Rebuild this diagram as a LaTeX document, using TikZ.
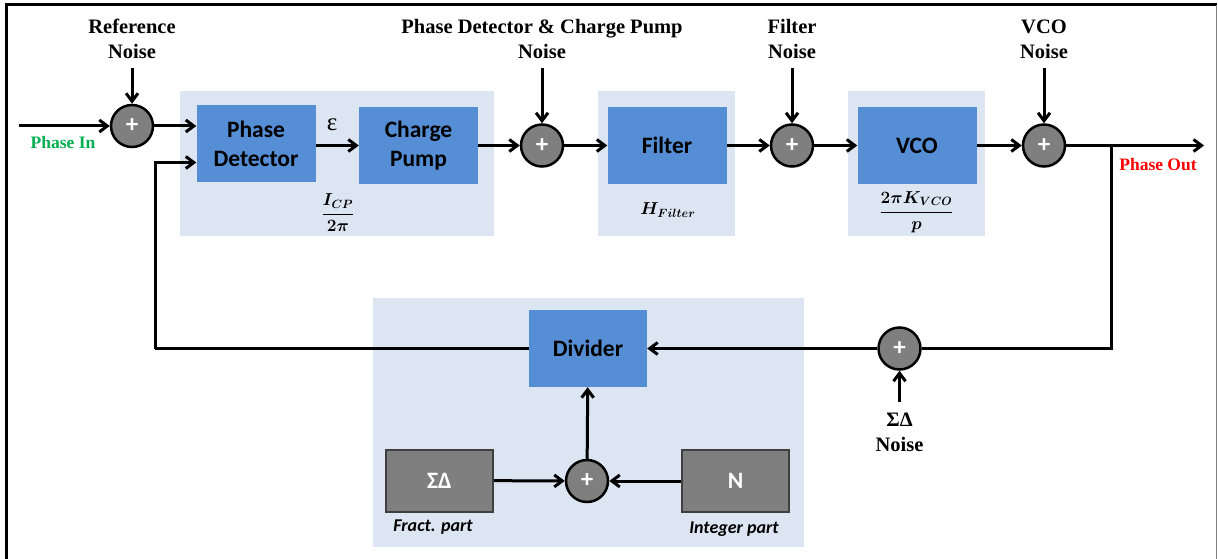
\documentclass[tikz,border=0pt]{standalone}
\usepackage{amsmath}
\usepackage{bm}
\usepackage{fontspec}
\setmainfont{Liberation Serif}
\newfontfamily\carlito{Carlito}
\usetikzlibrary{positioning, arrows.meta, fit, backgrounds}
\definecolor{blockblue}{HTML}{558ED5}
\definecolor{panelblue}{HTML}{DCE6F2}
\definecolor{sumgray}{HTML}{7F7F7F}
\definecolor{edgegray}{HTML}{3F3F3F}
\definecolor{ingreen}{HTML}{00B050}

\begin{document}
\begin{tikzpicture}[
    x=1pt, y=-1pt,
    block/.style={rectangle, fill=blockblue, minimum width=119pt, minimum height=76pt,
                  inner sep=0pt, align=center,
                  font=\carlito\bfseries\fontsize{23.5}{29}\selectfont},
    graybox/.style={block, fill=sumgray, draw=edgegray, line width=2pt, text=white,
                    minimum width=107pt, minimum height=62pt},
    sum/.style={circle, draw=black, line width=2.5pt, fill=sumgray, minimum size=42pt,
                inner sep=0pt, text=white, font=\carlito\bfseries\fontsize{25}{28}\selectfont},
    panel/.style={fill=panelblue, inner sep=0pt},
    noise/.style={font=\bfseries\fontsize{20.5}{25}\selectfont, align=center},
    gain/.style={font=\fontsize{18.5}{22}\selectfont},
    part/.style={font=\carlito\bfseries\itshape\fontsize{18}{22}\selectfont},
    arrow/.style={-{Straight Barb[length=8pt,width=12pt]}, line width=3pt},
    wire/.style={line width=3pt}
]
\useasboundingbox (0,0) rectangle (1218,559);
\draw[line width=3pt] (6.5,559) -- (6.5,5) -- (1217,5);
\draw[gray, line width=1.5pt] (1216.5,5) -- (1216.5,559);

% forward path
\node[sum] (sref) at (132,126) {+};
\node[block] (pd) at (256,143.5) {Phase\\Detector};
\node[block] (cp) at (418.5,145.5) {Charge\\Pump};
\node[sum] (spd) at (542,145.5) {+};
\node[block] (filt) at (667,145.5) {Filter};
\node[sum] (sfilt) at (792,145.5) {+};
\node[block] (vco) at (917,145.5) {VCO};
\node[sum] (svco) at (1044,145.5) {+};

\node[font=\fontsize{25}{28}\selectfont] (eps) at (332,125) {ε};
\node[gain] (cpgain) at (338,213) {$\bm{\dfrac{I_{CP}}{2\pi}}$};
\node[gain] (hfilt) at (668,210) {$\bm{H_{Filter}}$};
\node[gain] (vcogain) at (916.5,212) {$\bm{\dfrac{2\pi K_{VCO}}{p}}$};

% noise sources
\node[noise] (refnoise) at (132,39) {Reference\\Noise};
\node[noise] (pdnoise) at (542,39) {Phase Detector \& Charge Pump\\Noise};
\node[noise] (filtnoise) at (792,39) {Filter\\Noise};
\node[noise] (vconoise) at (1044,39) {VCO\\Noise};
\coordinate (refsrc) at (132,68);
\coordinate (pdsrc) at (542,68);
\coordinate (filtsrc) at (792,68);
\coordinate (vcosrc) at (1044,68);

\node[noise, font=\bfseries\fontsize{17.5}{21}\selectfont, text=ingreen] (phasein) at (63,143) {Phase In};
\node[noise, font=\bfseries\fontsize{17.5}{21}\selectfont, text=red] (phaseout) at (1158,165) {Phase Out};
\coordinate (phin) at (19,126);
\coordinate (phout) at (1204,145.5);
\coordinate (tap) at (1111.5,145.5);

% feedback path
\node[block, minimum width=118pt, minimum height=77pt] (div) at (588,348.5) {Divider};
\node[sum] (snoise) at (899.5,348.5) {+};
\node[noise] (sdnoise) at (899.5,432) {ΣΔ\\Noise};
\coordinate (sdsrc) at (899.5,402);
\node[sum] (sdiv) at (587,481) {+};
\node[graybox] (sdmod) at (439.5,480.5) {ΣΔ};
\node[graybox] (nint) at (735.5,481) {N};
\node[part] (fract) at (433,527) {Fract. part};
\node[part] (integer) at (734,529) {Integer part};
\coordinate (fbturn) at (155,348.5);

\draw[arrow] (phin) -- (sref);
\draw[arrow] (sref) -- (sref -| pd.west);
\draw[arrow] (cp.west -| pd.east) -- (cp.west);
\draw[arrow] (cp) -- (spd);
\draw[arrow] (spd) -- (filt);
\draw[arrow] (filt) -- (sfilt);
\draw[arrow] (sfilt) -- (vco);
\draw[arrow] (vco) -- (svco);
\draw[arrow] (svco) -- (phout);

\draw[arrow] (refsrc) -- (sref);
\draw[arrow] (pdsrc) -- (spd);
\draw[arrow] (filtsrc) -- (sfilt);
\draw[arrow] (vcosrc) -- (svco);

\draw[wire] (tap) |- (snoise);
\draw[arrow] (snoise) -- (div);
\draw[arrow] (sdsrc) -- (snoise);
\draw[wire] (div.west) -- (fbturn);
\draw[arrow] (fbturn) |- ([yshift=-19pt]pd.west);
\draw[arrow] (sdmod) -- (sdiv);
\draw[arrow] (nint) -- (sdiv);
\draw[arrow] (sdiv) -- (div);

\begin{scope}[on background layer]
  \node[panel, fit={(180,91) (494,236)}] (pdpanel) {};
  \node[panel, fit={(598,91) (735,236)}] (filtpanel) {};
  \node[panel, fit={(848,91) (985,236)}] (vcopanel) {};
  \node[panel, fit={(373,298) (804,547)}] (divpanel) {};
\end{scope}
\end{tikzpicture}
\end{document}
